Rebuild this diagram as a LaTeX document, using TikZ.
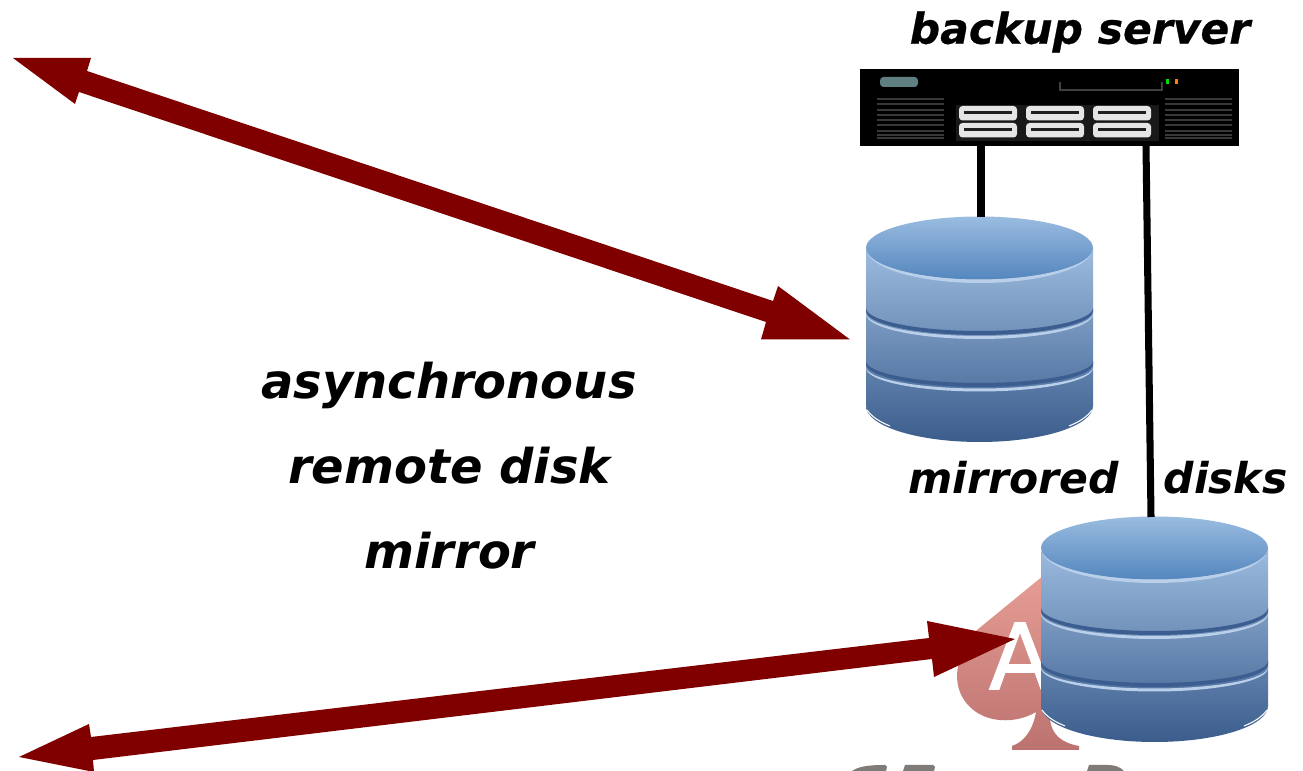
\documentclass[tikz,border=0pt]{standalone}
\usepackage{fontspec}
\setmainfont{DejaVu Sans}
\newfontfamily\logofont[FakeBold=1.2]{DejaVu Sans}
\newfontfamily\titlefont[BoldItalicFeatures={FakeBold=0.5}]{DejaVu Sans}
\definecolor{arrowred}{HTML}{800000}
\definecolor{cyltop}{HTML}{9ABCE0}
\definecolor{cylmid}{HTML}{5486BE}
\definecolor{bodytop}{HTML}{9DBBDF}
\definecolor{bodybot}{HTML}{3B5D8C}
\definecolor{groove}{HTML}{3B5D8F}
\definecolor{spadetop}{HTML}{E9A097}
\definecolor{spadebot}{HTML}{BC7370}
\definecolor{logogray}{HTML}{7F7B78}
\definecolor{plate}{HTML}{5F7F80}
\tikzset{
  lab/.style={font=\fontsize{13.63pt}{16pt}\selectfont\bfseries\itshape, text=black, inner sep=0pt, anchor=center},
  smalllab/.style={lab, font=\fontsize{12.08pt}{14pt}\selectfont\bfseries\itshape},
  titlelab/.style={lab, font=\titlefont\fontsize{12.08pt}{14pt}\selectfont\bfseries\itshape},
  cable/.style={draw=black, line width=2pt},
  redhead/.style={fill=arrowred, draw=none},
  logoletter/.style={fill=logogray, draw=none},
  shine/.style={left color=bodytop!70!white, middle color=white, right color=bodytop!70!white, draw=none},
  vent/.style={fill=black!78, draw=none},
}
% crescent across the disk: start height, radius of upper edge, end thickness, radius of lower edge
\newcommand{\crescentpath}[4]{(0,#1) arc[x radius=113.5, y radius=#2, start angle=180, end angle=0] -- ++(0,#3) arc[x radius=113.5, y radius=#4, start angle=0, end angle=180] -- cycle}
\newcommand{\dbcyl}[3]{% name, x left, y top of the disk
  \begin{scope}[shift={(#2,#3)}]
    \shade[top color=bodytop, bottom color=bodybot, draw=none]
      (0,32) -- (0,190) arc[x radius=113.5, y radius=36, start angle=180, end angle=0] -- (227,32) -- cycle;
    \shade[top color=cyltop, bottom color=cylmid, draw=none]
      (113.5,32) ellipse[x radius=113.5, y radius=31.5];
    \shade[shine] \crescentpath{32}{31.5}{0}{35};
    \fill[groove] \crescentpath{92}{23}{3}{24};
    \shade[shine] \crescentpath{97}{23}{1}{25};
    \fill[groove] \crescentpath{145}{22}{3}{23};
    \shade[shine] \crescentpath{151}{21.5}{1}{23.5};
    \draw[white, line width=0.3pt] (1,194) .. controls (6,201) and (14,206) .. (24,210);
    \draw[white, line width=0.3pt] (226,194) .. controls (221,201) and (213,206) .. (203,210);
    \coordinate (#1) at (113.5,0);
  \end{scope}
}
\begin{document}
\begin{tikzpicture}[x=0.01cm,y=-0.01cm]
\useasboundingbox (0,0) rectangle (1303,771);
\fill[white] (0,0) rectangle (1303,771);

% spade logo, behind the lower disk
\shade[top color=spadetop, bottom color=spadebot, draw=none]
  (1060,565) -- (1060,720) -- (1050,720) .. controls (1052,735) and (1062,743) .. (1079,746) -- (1079,750) -- (1012,750) -- (1012,746) .. controls (1024,742) and (1033,730) .. (1036,712)
  .. controls (1016,724) and (985,724) .. (968,705) .. controls (950,685) and (955,655) .. (977,630) -- (1060,562) -- cycle;
\node[font=\logofont\fontsize{26pt}{26pt}\selectfont, text=white, inner sep=0pt] (logoa) at (1020,656) {A};
% clipped logo lettering
\begin{scope}
  \clip (830,740) rectangle (1303,771);
  \fill[logoletter] (852,771) .. controls (858,767) and (866,765) .. (885,765) -- (887,767) -- (886,771) -- cycle;
  \fill[logoletter] (905,765) -- (933,765) -- (935,767) -- (934,771) -- (903,771) -- cycle;
  \fill[logoletter] (1087,771) -- (1089,765) -- (1108,765) .. controls (1115,765) and (1120,767) .. (1124,771) -- cycle;
\end{scope}

% server
\node[fill=black, minimum width=379*0.01cm, minimum height=77*0.01cm, inner sep=0pt, anchor=north west] (server) at (859.5,68.5) {};
\fill[plate, rounded corners=1pt] (880,77) rectangle (918,87);
\draw[black!75, line width=0.35pt] (1060,82) -- (1060,90) -- (1162,90) -- (1162,82);
\fill[green!85!black] (1166,79) rectangle (1169,84);
\fill[orange] (1175,79) rectangle (1178,84);
\foreach \yy in {98,103,109,114,119,124,130,134,137}{
  \fill[vent] (877,\yy) rectangle (944,\yy+1.7);
  \fill[vent] (1165,\yy) rectangle (1232,\yy+1.7);
}
\fill[black!90] (956,105) rectangle (1159,141);
\foreach \xx in {959,1026,1093}{
  \foreach \yy in {106,123}{
    \fill[gray!20, rounded corners=1pt] (\xx,\yy) rectangle (\xx+58,\yy+14.5);
    \fill[black!88] (\xx+4.5,\yy+5) rectangle (\xx+53,\yy+8.5);
  }
}

% disks
\dbcyl{diskA}{866}{216}
\dbcyl{diskB}{1041}{516}

% cables
\coordinate (srvL) at (981,146);
\coordinate (srvR) at (1146,146);
\coordinate (diskAtop) at (981,217);
\coordinate (diskBtop) at (1151,517);
\draw[cable] (srvL) -- (diskAtop);
\draw[cable] (srvR) -- (diskBtop);

% long red arrows
\coordinate (a1) at (13,58);
\coordinate (a2) at (850,339.5);
\coordinate (b1) at (19,757);
\coordinate (b2) at (1015,639);
\fill[redhead] (a1) -- (91,58) -- (87,71) -- (773,301) -- (778,286) -- (a2) -- (761,339.5) -- (766,322) -- (79,92) -- (75,104) -- cycle;
\fill[redhead] (b1) -- (89,724) -- (91,737) -- (929,638) -- (927,621) -- (b2) -- (934,677) -- (932,659) -- (93,760) -- (94,772) -- cycle;

% labels
\node[lab] (t1) at (449,385) {asynchronous};
\node[lab] (t2) at (449.5,466) {remote disk};
\node[lab] (t3) at (449.5,551) {mirror};
\node[titlelab] (t4) at (1080,32) {backup server};
\node[smalllab] (t5) at (1013.5,478) {mirrored};
\node[smalllab] (t6) at (1225.5,478) {disks};
\end{tikzpicture}
\end{document}
